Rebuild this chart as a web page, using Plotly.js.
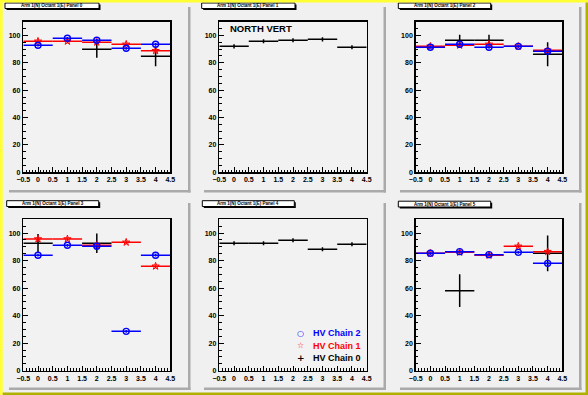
<!DOCTYPE html>
<html>
<head>
<meta charset="utf-8">
<script src="https://cdn.plot.ly/plotly-3.0.1.min.js"></script>
<style>html,body{margin:0;padding:0;background:#f0f0f0;} #chart{width:588px;height:395px;}</style>
</head>
<body>
<div id="chart"></div>
<script>
// ---- data ----
const bins = [0, 1, 2, 3, 4];
const panelTitles = [
  'Arm 1(N) Octant 1(E) Panel 0',
  'Arm 1(N) Octant 1(E) Panel 1',
  'Arm 1(N) Octant 1(E) Panel 2',
  'Arm 1(N) Octant 1(E) Panel 3',
  'Arm 1(N) Octant 1(E) Panel 4',
  'Arm 1(N) Octant 1(E) Panel 5'
];
const seriesNames = ['HV Chain 0', 'HV Chain 1', 'HV Chain 2'];
// HV Chain 0 (black)
const chain0 = [
  [null, null, 89.8, null, 84.7],
  [92.0, 95.7, 96.4, 97.1, 91.3],
  [null, 96.4, 96.4, null, 86.2],
  [92.6, null, 92.6, null, null],
  [92.6, 92.6, 94.8, 88.2, 91.9],
  [null, 58.1, null, null, 85.3]
];
const chain0Err = [
  [0, 0, 6.1, 0, 7.3],
  [1.5, 1.5, 1.5, 1.5, 1.5],
  [0, 4.0, 4.0, 0, 8.8],
  [6.7, 0, 7.0, 0, 0],
  [1.5, 1.5, 1.5, 1.5, 1.5],
  [0, 11.9, 0, 0, 13.0]
];
// HV Chain 1 (red)
const chain1 = [
  [95.7, 95.7, 95.0, 93.5, 88.8],
  [null, null, null, null, null],
  [92.0, 92.8, 93.5, 92.0, 89.1],
  [95.7, 95.7, 91.1, 93.3, 75.9],
  [null, null, null, null, null],
  [85.3, 86.0, 83.9, 90.4, 86.5]
];
const chain1Err = [1.2, 1.2, 1.2, 1.2, 1.2];
// HV Chain 2 (blue)
const chain2 = [
  [92.8, 97.9, 96.4, 90.6, 93.5],
  [null, null, null, null, null],
  [91.3, 93.5, 91.3, 92.0, 88.4],
  [83.9, 91.1, 90.4, 28.6, 83.9],
  [null, null, null, null, null],
  [85.3, 86.5, 84.3, 86.0, 78.0]
];
const chain2Err = [1.0, 1.0, 1.0, 1.0, 1.0];

// ---- layout helpers ----
const W = 588, H = 395;
const px = x => x / W;
const py = y => 1 - y / H;
const colsPx = [[23.3, 170.3], [219.3, 366.7], [415.7, 562.3]];
const rowsPx = [[21.7, 172.3], [219.3, 370.7]];
const padsPx = [ // left, top, right, bottom
  [[6, 4, 188, 190], [201, 4, 383.5, 190], [397, 4, 579, 190]],
  [[6, 200, 188, 387.5], [201, 200, 383.5, 387.5], [397, 200, 579, 387.5]]
];
const titleBoxPx = [
  [[5, 3, 99, 8.5], [201.7, 3, 295, 8.5], [398.3, 3, 490.7, 8.5]],
  [[6.7, 200.7, 98.7, 206.5], [202.3, 200.7, 294.3, 206.5], [398.3, 201.2, 490.7, 207]]
];
const colors = ['black', 'red', 'blue'];
const font = 'Liberation Sans, Arial, sans-serif';

const traces = [];
const layout = {
  width: W, height: H,
  margin: {l: 0, r: 0, t: 0, b: 0},
  paper_bgcolor: '#f0f0f0',
  plot_bgcolor: '#f2f2f2',
  showlegend: false,
  shapes: [],
  annotations: []
};

function keep(ys, errs) {
  const x = [], y = [], e = [];
  bins.forEach((b, i) => {
    if (ys[i] !== null && ys[i] !== undefined) { x.push(b); y.push(ys[i]); e.push(errs[i]); }
  });
  return {x, y, e};
}

for (let p = 0; p < 6; p++) {
  const r = Math.floor(p / 3), c = p % 3;
  const n = p + 1;
  const xa = 'x' + (n === 1 ? '' : n), ya = 'y' + (n === 1 ? '' : n);
  const xk = 'xaxis' + (n === 1 ? '' : n), yk = 'yaxis' + (n === 1 ? '' : n);
  const tickfont = {family: font, size: 7, color: 'black', weight: 'bold'};
  layout[xk] = {
    domain: [px(colsPx[c][0]), px(colsPx[c][1])],
    anchor: ya, range: [-0.5, 4.5], tick0: -0.5, dtick: 0.5,
    ticks: 'inside', ticklen: 5, tickwidth: 1, tickcolor: 'black',
    minor: {dtick: 0.1, tick0: -0.5, ticks: 'inside', ticklen: 2.5, tickwidth: 1, tickcolor: 'black', showgrid: false},
    showline: true, linewidth: 1.5, linecolor: 'black', mirror: true,
    showgrid: false, zeroline: false, tickfont, fixedrange: true
  };
  layout[yk] = {
    domain: [py(rowsPx[r][1]), py(rowsPx[r][0])],
    anchor: xa, range: [0, 110], tick0: 0, dtick: 20,
    ticks: 'inside', ticklen: 5, tickwidth: 1, tickcolor: 'black',
    minor: {dtick: 5, ticks: 'inside', ticklen: 2.5, tickwidth: 1, tickcolor: 'black', showgrid: false},
    showline: true, linewidth: 1.5, linecolor: 'black', mirror: true,
    showgrid: false, zeroline: false, tickfont, fixedrange: true
  };
  const sets = [
    [chain0[p], chain0Err[p]],
    [chain1[p], chain1Err],
    [chain2[p], chain2Err]
  ];
  sets.forEach((s, k) => {
    const d = keep(s[0], s[1]);
    if (!d.x.length) return;
    const marker = k === 0 ? {size: 2, opacity: 0, color: 'black'} :
      k === 1 ? {symbol: 'star-open', size: 5.5, color: 'red', line: {width: 1, color: 'red'}} :
                {symbol: 'circle-open', size: 6, color: 'blue', line: {width: 1.4, color: 'blue'}};
    traces.push({
      type: 'scatter', mode: 'markers', name: seriesNames[k],
      x: d.x, y: d.y, xaxis: xa, yaxis: ya, marker,
      error_x: {type: 'constant', value: 0.5, color: colors[k], thickness: 1.5, width: 0},
      error_y: {type: 'data', array: d.e, visible: true, color: colors[k], thickness: 1.5, width: 0},
      hoverinfo: 'skip'
    });
  });
  // pad shadows
  const pd = padsPx[r][c];
  layout.shapes.push({type: 'rect', xref: 'paper', yref: 'paper', layer: 'below',
    x0: px(pd[2]), x1: px(pd[2] + 2.5), y0: py(pd[1] + 3), y1: py(pd[3] + 2.5),
    fillcolor: '#aaaaaa', line: {width: 0}});
  layout.shapes.push({type: 'rect', xref: 'paper', yref: 'paper', layer: 'below',
    x0: px(pd[0] + 3), x1: px(pd[2] + 2.5), y0: py(pd[3]), y1: py(pd[3] + 2.5),
    fillcolor: '#aaaaaa', line: {width: 0}});
  // title boxes
  const tb = titleBoxPx[r][c];
  layout.shapes.push({type: 'rect', xref: 'paper', yref: 'paper', layer: 'above',
    x0: px(tb[0] + 1.5), x1: px(tb[2] + 1.5), y0: py(tb[1] + 1.5), y1: py(tb[3] + 1.5),
    fillcolor: 'black', line: {width: 0}});
  layout.shapes.push({type: 'rect', xref: 'paper', yref: 'paper', layer: 'above',
    x0: px(tb[0]), x1: px(tb[2]), y0: py(tb[1]), y1: py(tb[3]),
    fillcolor: 'white', line: {width: 1, color: 'black'}});
  layout.annotations.push({xref: 'paper', yref: 'paper', showarrow: false,
    x: px((tb[0] + tb[2]) / 2), y: py((tb[1] + tb[3]) / 2), xanchor: 'center', yanchor: 'middle',
    text: panelTitles[p], font: {family: font, size: 4.5, color: 'black', weight: 'bold'}});
}

// canvas bevel border
layout.shapes.push({type: 'rect', xref: 'paper', yref: 'paper', layer: 'above', x0: 0, x1: 1, y0: py(2.5), y1: 1, fillcolor: '#ffff33', line: {width: 0}});
layout.shapes.push({type: 'rect', xref: 'paper', yref: 'paper', layer: 'above', x0: 0, x1: px(2.7), y0: 0, y1: 1, fillcolor: '#ffff33', line: {width: 0}});
layout.shapes.push({type: 'rect', xref: 'paper', yref: 'paper', layer: 'above', x0: px(585.5), x1: 1, y0: 0, y1: py(2.5), fillcolor: '#b0b000', line: {width: 0}});
layout.shapes.push({type: 'rect', xref: 'paper', yref: 'paper', layer: 'above', x0: px(2.7), x1: 1, y0: 0, y1: py(392.5), fillcolor: '#b0b000', line: {width: 0}});

// NORTH VERT label
layout.annotations.push({xref: 'paper', yref: 'paper', showarrow: false,
  x: px(228), y: py(28), xanchor: 'left', yanchor: 'middle',
  text: 'NORTH VERT', font: {family: font, size: 9.5, color: 'black', weight: 'bold'}});

// legend (panel 4)
const legendRows = [
  {sym: '○', name: seriesNames[2], color: 'blue', y: 333.3, size: 8},
  {sym: '☆', name: seriesNames[1], color: 'red', y: 345.7, size: 8},
  {sym: '+', name: seriesNames[0], color: 'black', y: 358, size: 9}
];
legendRows.forEach(l => {
  layout.annotations.push({xref: 'paper', yref: 'paper', showarrow: false,
    x: px(300.7), y: py(l.y), xanchor: 'center', yanchor: 'middle',
    text: l.sym, font: {family: 'DejaVu Sans, sans-serif', size: l.size, color: l.color, weight: 'bold'}});
  layout.annotations.push({xref: 'paper', yref: 'paper', showarrow: false,
    x: px(311), y: py(l.y), xanchor: 'left', yanchor: 'middle',
    text: l.name, font: {family: font, size: 9, color: l.color, weight: 'bold'}});
});

Plotly.newPlot('chart', traces, layout, {staticPlot: true, displayModeBar: false});
</script>
</body>
</html>
